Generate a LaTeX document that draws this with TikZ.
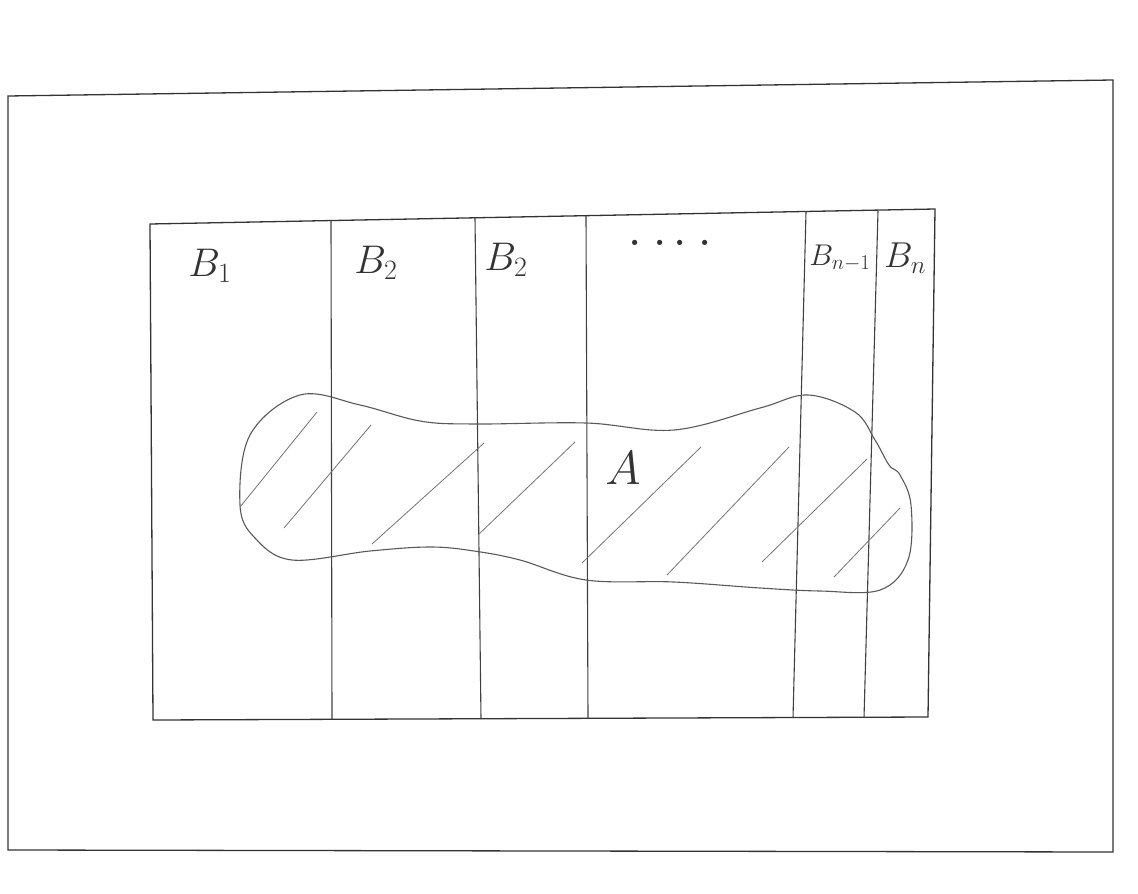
\documentclass[tikz,border=0pt]{standalone}
\usepackage{fix-cm}
\usepackage{fontspec}
\begin{document}
\begin{tikzpicture}[x=1pt,y=-1pt,
  frame/.style={draw=black!80,line width=1.3pt},
  divider/.style={draw=black!75,line width=1.1pt},
  blob/.style={draw=black!65,line width=1.1pt},
  hatch/.style={draw=black!55,line width=0.8pt},
  lbl/.style={font=\fontsize{40}{48}\selectfont,inner sep=0pt,text=black!80}]
\useasboundingbox (0,0) rectangle (1138,894);
% outer frame
\draw[frame] (8,96) -- (1113,80) -- (1113,852) -- (8,850) -- cycle;
% inner frame
\draw[frame] (150,224) -- (935,209) -- (928,717) -- (153,720) -- cycle;
% column dividers
\draw[divider] (331,221) -- (332,719);
\draw[divider] (475,218) -- (481,719);
\draw[divider] (586,216) -- (588,719);
\draw[divider] (806,212) -- (793,718);
\draw[divider] (878,211) -- (864,718);
% blob A
\draw[blob] plot[smooth cycle,tension=0.6] coordinates {
  (240,505) (250,435) (300,395) (360,405) (420,421) (474,424) (586,423)
  (674,430) (760,408) (808,395) (855,412) (875,440) (889,465) (900,475)
  (911,505) (908,560) (880,590) (820,591) (760,588) (674,582) (586,580)
  (520,560) (474,551) (430,547) (370,551) (292,560) (255,538)};
% hatching
\draw[hatch] (317,412) -- (240,507);
\draw[hatch] (371,425) -- (284,528);
\draw[hatch] (484,443) -- (372,544);
\draw[hatch] (575,442) -- (478,535);
\draw[hatch] (701,447) -- (582,563);
\draw[hatch] (789,447) -- (667,575);
\draw[hatch] (867,459) -- (762,562);
\draw[hatch] (900,508) -- (834,577);
% labels
\node[lbl] (b1) at (210,266) {$B_1$};
\node[lbl] (b2) at (376,263) {$B_2$};
\node[lbl] (b3) at (506,260) {$B_2$};
\node[lbl,font=\fontsize{36}{40}\bfseries\selectfont] (dots) at (670,243) {.\hspace{14pt}.\hspace{8pt}.\hspace{14pt}.};
\node[lbl,font=\fontsize{30}{36}\selectfont] (bn1) at (840,258) {$B_{n-1}$};
\node[lbl,font=\fontsize{36}{42}\selectfont] (bn) at (905,258) {$B_n$};
\node[lbl,font=\fontsize{48}{56}\selectfont] (a) at (623,468) {$A$};
\end{tikzpicture}
\end{document}
